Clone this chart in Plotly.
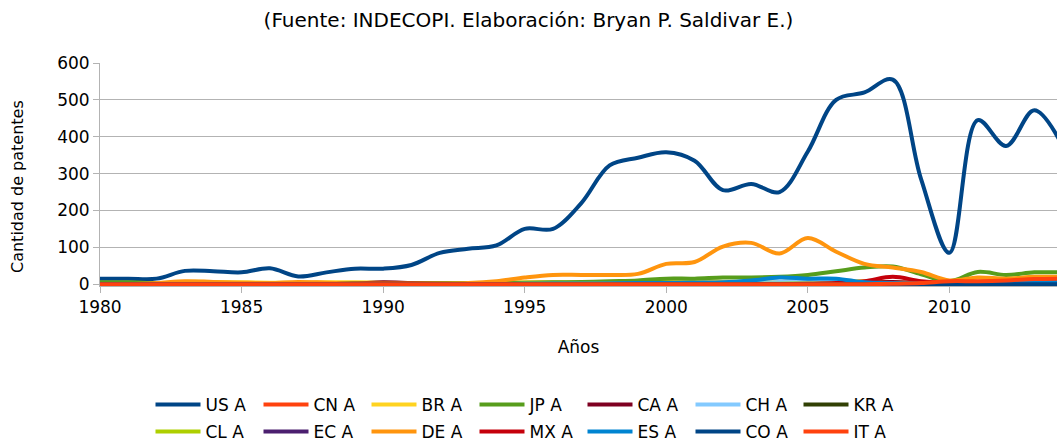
import plotly.graph_objects as go

years = list(range(1980, 2015))

us = [15, 15, 15, 36, 35, 32, 43, 21, 32, 42, 42, 52, 85, 96, 105, 150, 150, 220, 322, 343, 358, 335, 255, 272, 250, 360, 500, 520, 555, 285, 85, 445, 375, 472, 375]
cn = [0, 0, 0, 0, 0, 0, 0, 0, 0, 0, 0, 0, 0, 0, 0, 0, 0, 0, 0, 0, 0, 0, 0, 0, 0, 0, 0, 0, 0, 0, 3, 6, 8, 10, 10]
br = [0, 0, 2, 6, 6, 5, 4, 4, 5, 5, 4, 3, 3, 3, 4, 5, 5, 5, 6, 7, 8, 8, 6, 5, 6, 8, 8, 8, 5, 3, 2, 6, 8, 8, 8]
jp = [5, 5, 3, 3, 3, 3, 3, 3, 3, 3, 3, 3, 3, 3, 3, 4, 5, 6, 8, 10, 15, 15, 18, 18, 20, 25, 35, 45, 48, 27, 8, 33, 25, 32, 32]
ca = [0, 0, 0, 0, 0, 0, 0, 0, 1, 2, 5, 3, 1, 0, 0, 0, 0, 0, 0, 1, 1, 1, 1, 1, 1, 1, 2, 4, 6, 3, 1, 1, 1, 2, 2]
ch = [0, 0, 0, 0, 0, 0, 0, 0, 0, 0, 0, 0, 0, 0, 0, 1, 1, 1, 1, 1, 1, 1, 2, 3, 6, 8, 6, 3, 2, 1, 1, 1, 1, 1, 1]
kr = [0, 0, 0, 0, 0, 0, 0, 0, 0, 0, 0, 0, 0, 0, 0, 0, 0, 0, 0, 0, 0, 0, 0, 0, 0, 0, 0, 0, 1, 1, 1, 2, 3, 4, 4]
cl = [0, 0, 0, 0, 0, 0, 0, 0, 0, 0, 0, 0, 0, 0, 0, 0, 0, 0, 0, 1, 1, 1, 1, 1, 1, 2, 2, 2, 2, 1, 1, 2, 2, 3, 3]
ec = [0, 0, 0, 0, 0, 0, 0, 0, 0, 0, 0, 0, 0, 0, 0, 0, 0, 0, 0, 0, 0, 0, 0, 0, 0, 0, 0, 0, 0, 0, 0, 0, 1, 1, 1]
de = [0, 0, 3, 8, 6, 4, 3, 6, 4, 2, 2, 2, 2, 3, 8, 18, 25, 25, 25, 28, 55, 60, 102, 112, 83, 125, 88, 55, 45, 33, 10, 18, 15, 20, 20]
mx = [0, 0, 0, 0, 0, 0, 0, 0, 0, 0, 0, 0, 0, 0, 0, 0, 0, 0, 0, 0, 0, 0, 0, 0, 0, 1, 3, 8, 20, 8, 3, 2, 2, 3, 3]
es = [0, 0, 0, 0, 0, 0, 0, 0, 0, 0, 0, 0, 0, 0, 0, 0, 1, 1, 2, 3, 3, 4, 5, 10, 18, 15, 15, 5, 3, 2, 2, 5, 8, 8, 8]
co = [0, 0, 0, 0, 0, 0, 0, 0, 0, 0, 0, 0, 0, 0, 0, 0, 0, 0, 0, 0, 0, 0, 0, 0, 0, 0, 0, 0, 0, 0, 0, 0, 0, 0, 0]
it = [0, 0, 0, 0, 0, 0, 0, 0, 0, 0, 0, 0, 0, 0, 0, 0, 0, 0, 0, 0, 0, 0, 0, 0, 0, 0, 0, 0, 1, 3, 8, 8, 10, 14, 15]

labels = ["US A", "CN A", "BR A", "JP A", "CA A", "CH A", "KR A",
          "CL A", "EC A", "DE A", "MX A", "ES A", "CO A", "IT A"]
series = [us, cn, br, jp, ca, ch, kr, cl, ec, de, mx, es, co, it]
colors = ["#004586", "#ff420e", "#ffd320", "#579d1c", "#7e0021", "#83caff", "#314004",
          "#aecf00", "#4b1f6f", "#ff950e", "#c5000b", "#0084d1", "#004586", "#ff420e"]

FONT = "DejaVu Sans"

fig = go.Figure()
for i, (name, vals, col) in enumerate(zip(labels, series, colors)):
    fig.add_trace(go.Scatter(
        x=years, y=vals, name=name, mode="lines",
        line=dict(color=col, width=4, shape="spline", smoothing=1.0),
        legend="legend" if i < 7 else "legend2",
        hoverinfo="skip",
    ))

legend_common = dict(
    orientation="h", xref="container", yref="container",
    x=0.5, xanchor="center", yanchor="middle",
    font=dict(family=FONT, size=17, color="#000000"),
    entrywidth=48, itemwidth=45, bgcolor="rgba(0,0,0,0)",
    tracegroupgap=0,
)

fig.update_layout(
    width=1057, height=441,
    margin=dict(l=100, r=0, t=63, b=155),
    paper_bgcolor="white", plot_bgcolor="white",
    font=dict(family=FONT, color="#000000"),
    title=dict(text="(Fuente: INDECOPI. Elaboración: Bryan P. Saldivar E.)",
               x=0.5, xanchor="center", y=1 - 20 / 441, yanchor="middle",
               yref="container", font=dict(family=FONT, size=20, color="#000000")),
    showlegend=True,
    legend=dict(**legend_common, y=1 - 405 / 441),
    legend2=dict(**legend_common, y=1 - 432 / 441),
    xaxis=dict(
        range=[1980, 2013.8], tickmode="array",
        tickvals=[1980, 1985, 1990, 1995, 2000, 2005, 2010],
        ticktext=["1980", "1985", "1990", "1995", "2000", "2005", "2010"],
        showgrid=False, zeroline=False,
        showline=True, linecolor="#b3b3b3", linewidth=1,
        ticks="outside", ticklen=6, tickcolor="#b3b3b3",
        tickfont=dict(family=FONT, size=17, color="#000000"),
        title=dict(text="Años", font=dict(family=FONT, size=17, color="#000000"), standoff=24),
    ),
    yaxis=dict(
        range=[-5, 600], tickmode="array",
        tickvals=[0, 100, 200, 300, 400, 500, 600],
        showgrid=True, gridcolor="#b3b3b3", gridwidth=1, zeroline=False,
        showline=True, linecolor="#b3b3b3", linewidth=1,
        ticks="outside", ticklen=6, tickcolor="#b3b3b3",
        tickfont=dict(family=FONT, size=17, color="#000000"),
    ),
    annotations=[dict(
        text="Cantidad de patentes", textangle=-90, showarrow=False,
        xref="paper", yref="paper", x=(17 - 100) / 957, y=(286 - 187) / 223,
        xanchor="center", yanchor="middle",
        font=dict(family=FONT, size=16, color="#000000"),
    )],
)

fig.write_html("out.html", post_script="document.body.style.margin='0px';",
               config={"displayModeBar": False})
